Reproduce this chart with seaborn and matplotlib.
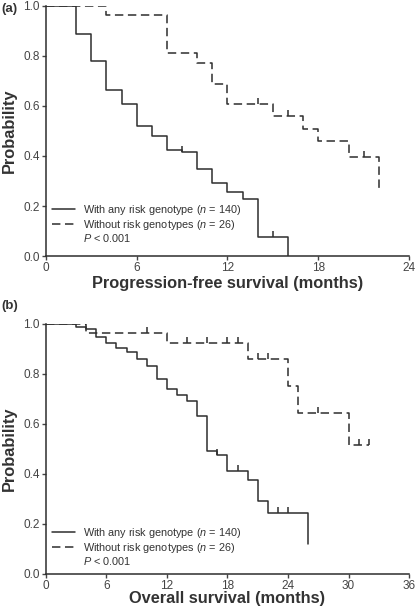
import numpy as np
import pandas as pd
import seaborn as sns
import matplotlib.pyplot as plt
from matplotlib.lines import Line2D
from matplotlib.path import Path

# (a) progression-free survival: step times and survival after each step
pfs_any_t = [0, 2, 3, 4, 5, 6, 7, 8, 9, 10, 11, 12, 13, 14, 16]
pfs_any_s = [1.0, 0.887, 0.779, 0.664, 0.609, 0.520, 0.480, 0.424, 0.414,
             0.348, 0.291, 0.255, 0.229, 0.077, 0.0]
pfs_any_cens = [9, 15]

pfs_none_t = [0, 4, 8, 10, 11, 12, 15, 17, 18, 20, 22]
pfs_none_s = [1.0, 0.963, 0.810, 0.772, 0.688, 0.608, 0.560, 0.509, 0.459,
              0.394, 0.261]
pfs_none_cens = [14, 16, 21]

# (b) overall survival
os_any_t = [0, 3, 4, 5, 6, 7, 8, 9, 10, 11, 12, 13, 14, 15, 16, 17, 18, 20,
            21, 22, 26]
os_any_s = [1.0, 0.986, 0.978, 0.947, 0.921, 0.901, 0.887, 0.859, 0.831,
            0.780, 0.739, 0.713, 0.690, 0.630, 0.490, 0.475, 0.409, 0.374,
            0.292, 0.242, 0.118]
os_any_cens = [17, 19, 23, 24]

os_none_t = [0, 4, 12, 20, 24, 25, 30, 32]
os_none_s = [1.0, 0.962, 0.922, 0.860, 0.751, 0.641, 0.514, 0.514]
os_none_cens = [3, 10, 14, 16, 18, 19, 21, 22, 27, 31, 32]

label_any = "With any risk genotype ($n$ = 140)"
label_none = "Without risk genotypes ($n$ = 26)"

sns.set_style("ticks")
plt.rcParams['font.family'] = ['Liberation Sans', 'DejaVu Sans']
plt.rcParams['mathtext.fontset'] = 'custom'
plt.rcParams['mathtext.rm'] = 'Liberation Sans'
plt.rcParams['mathtext.it'] = 'Liberation Sans:italic'

ink = '#2e2e2e'
tick_up = Path([[0, 0], [0, 1]])
dash = (0, (5.5, 3))


def step_at(t, s, x):
    i = np.searchsorted(t, x, side='right') - 1
    return s[i]


def km_panel(ax, curves, xmax, xlabel, xpad, leg_y):
    for t, s, cens, dashed in curves:
        df = pd.DataFrame({'t': t, 's': s})
        sns.lineplot(data=df, x='t', y='s', ax=ax, estimator=None,
                     drawstyle='steps-post', color=ink, lw=1.1,
                     linestyle=dash if dashed else '-')
        cy = [step_at(t, s, c) for c in cens]
        ax.plot(cens, cy, linestyle='none', marker=tick_up, markersize=9,
                markeredgewidth=1.1, color=ink)

    ax.set_xlim(0, xmax)
    ax.set_ylim(0, 1.0)
    ax.set_xticks(np.arange(0, xmax + 1, 6))
    ax.set_yticks(np.arange(0, 1.01, 0.2))
    ax.yaxis.set_major_formatter(plt.FuncFormatter(lambda v, p: f"{v:.1f}"))
    ax.set_xlabel(xlabel, fontsize=11.8, fontweight='bold', labelpad=xpad,
                  color='#333333')
    ax.set_ylabel("Probability", fontsize=11.8, fontweight='bold',
                  labelpad=4.5, color='#333333')
    ax.tick_params(labelsize=8.5, colors='#444444', length=3, width=1.0, pad=1.5)
    for sp in ('left', 'bottom'):
        ax.spines[sp].set_color(ink)
        ax.spines[sp].set_linewidth(1.1)
    sns.despine(ax=ax)

    handles = [Line2D([], [], color=ink, lw=1.1),
               Line2D([], [], color=ink, lw=1.1, linestyle=dash),
               Line2D([], [], linestyle='none')]
    ax.legend(handles, [label_any, label_none, "$P$ < 0.001"],
              loc='lower left', bbox_to_anchor=(0.0, leg_y), frameon=False,
              fontsize=7.8, handlelength=2.1, handletextpad=0.7,
              labelspacing=0.05, borderaxespad=0.2)
    for txt in ax.get_legend().get_texts():
        txt.set_color('#333333')
    return ax


fig = plt.figure(figsize=(4.17, 6.13), dpi=100)
ax1 = fig.add_axes([0.110, 0.582, 0.871, 0.409])
ax2 = fig.add_axes([0.110, 0.064, 0.871, 0.408])

km_panel(ax1, [(pfs_any_t, pfs_any_s, pfs_any_cens, False),
               (pfs_none_t, pfs_none_s, pfs_none_cens, True)],
         24, "Progression-free survival (months)", 1, 0.022)
km_panel(ax2, [(os_any_t, os_any_s, os_any_cens, False),
               (os_none_t, os_none_s, os_none_cens, True)],
         36, "Overall survival (months)", -0.5, 0.0)

fig.text(0.003, 1 - 9 / 613, "(a)", fontsize=9.5, fontweight='bold',
         va='center', ha='left', color='#333333')
fig.text(0.003, 1 - 306 / 613, "(b)", fontsize=9.5, fontweight='bold',
         va='center', ha='left', color='#333333')

fig.savefig("out.png", dpi=100)
